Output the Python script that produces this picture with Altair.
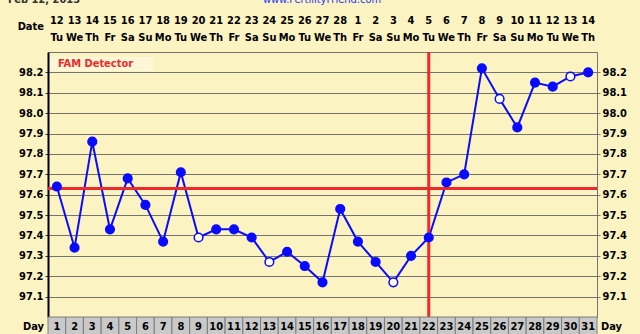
import altair as alt
import pandas as pd

# ---- data ----
days = list(range(1, 32))
temps = [97.64, 97.34, 97.86, 97.43, 97.68, 97.55, 97.37, 97.71, 97.39, 97.43,
         97.43, 97.39, 97.27, 97.32, 97.25, 97.17, 97.53, 97.37, 97.27, 97.17,
         97.30, 97.39, 97.66, 97.70, 98.22, 98.07, 97.93, 98.15, 98.13, 98.18, 98.20]
open_days = [9, 13, 20, 26, 30]
date_nums = [12, 13, 14, 15, 16, 17, 18, 19, 20, 21, 22, 23, 24, 25, 26, 27, 28,
             1, 2, 3, 4, 5, 6, 7, 8, 9, 10, 11, 12, 13, 14]
weekdays = ["Tu", "We", "Th", "Fr", "Sa", "Su", "Mo", "Tu", "We", "Th", "Fr", "Sa",
            "Su", "Mo", "Tu", "We", "Th", "Fr", "Sa", "Su", "Mo", "Tu", "We", "Th",
            "Fr", "Sa", "Su", "Mo", "Tu", "We", "Th"]
coverline = [97.63]
ovulation_day = [22]
y_ticks = [97.1, 97.2, 97.3, 97.4, 97.5, 97.6, 97.7, 97.8, 97.9, 98.0, 98.1, 98.2]
x_grid = [d + 0.5 for d in range(0, 32)]

W, H = 549, 265
BG = "#fcf3c2"
FONT = "DejaVu Sans Condensed, DejaVu Sans"
BLUE = "#0a0aff"
RED = "#ee2a2a"

df = pd.DataFrame({
    "day": days,
    "temp": temps,
    "date": date_nums,
    "wd": weekdays,
    "open": [d in open_days for d in days],
})
one = pd.DataFrame({"k": [0]})

xs = alt.Scale(domain=[0.5, 31.5], nice=False, zero=False)
ys = alt.Scale(domain=[97.0, 98.3], nice=False, zero=False)

x_main = alt.X("day:Q", scale=xs, axis=alt.Axis(
    values=x_grid, labels=False, ticks=False, domain=False, grid=True,
    gridColor="#85857e", gridWidth=1.5, title=None))
x_plain = alt.X("day:Q", scale=xs, axis=None)
y_left = alt.Y("temp:Q", scale=ys, axis=alt.Axis(
    values=y_ticks, format=".1f", grid=True, gridColor="#74746e", gridWidth=1,
    title=None, orient="left", domain=True, domainColor="#000000", domainWidth=2,
    tickSize=3, tickColor="#333333", labelPadding=2, labelFont=FONT,
    labelFontSize=11, labelFontWeight="bold", labelColor="#000000"))
y_right = alt.Y("temp:Q", scale=ys, axis=alt.Axis(
    values=y_ticks, format=".1f", grid=False, title=None, orient="right",
    domain=False, tickSize=3, tickColor="#777777", labelPadding=2,
    labelFont=FONT, labelFontSize=11, labelFontWeight="bold",
    labelColor="#000000"))
y_plain = alt.Y("temp:Q", scale=ys, axis=None)

# base grid + axes (invisible points)
grid_left = alt.Chart(df).mark_point(opacity=0).encode(x=x_main, y=y_left)
grid_right = alt.Chart(df).mark_point(opacity=0).encode(x=x_plain, y=y_right)

legend_box = alt.Chart(one).mark_rect(fill="#fdf7d8").encode(
    x=alt.value(2), x2=alt.value(105), y=alt.value(5), y2=alt.value(19))
legend_text = alt.Chart(one).mark_text(
    text="FAM Detector", color=RED, font=FONT, fontSize=11, fontWeight="bold",
    align="left", baseline="middle").encode(x=alt.value(10), y=alt.value(12))

line = alt.Chart(df).mark_line(color=BLUE, strokeWidth=2).encode(x=x_plain, y=y_plain)

cover = alt.Chart(pd.DataFrame({"temp": coverline})).mark_rule(
    color=RED, strokeWidth=3).encode(y=y_plain)
ovu = alt.Chart(pd.DataFrame({"day": ovulation_day})).mark_rule(
    color=RED, strokeWidth=3).encode(x=x_plain)

points = alt.Chart(df).mark_circle(size=75, opacity=1, stroke=BLUE, strokeWidth=1.5).encode(
    x=x_plain, y=y_plain,
    fill=alt.condition("datum.open", alt.value("white"), alt.value(BLUE)))

txt = dict(font=FONT, fontSize=11, fontWeight="bold", color="#000000", baseline="middle")
date_row = alt.Chart(df).mark_text(**txt).encode(x=x_plain, y=alt.value(-31), text="date:N")
wd_row = alt.Chart(df).mark_text(**txt).encode(x=x_plain, y=alt.value(-14), text="wd:N")
date_lbl = alt.Chart(one).mark_text(text="Date", align="right", **txt).encode(
    x=alt.value(-4), y=alt.value(-25))

cells = alt.Chart(df).transform_calculate(
    x0="datum.day - 0.5", x1="datum.day + 0.5").mark_rect(
    fill="#c9c9c9", stroke="#7c7c7c", strokeWidth=1).encode(
    x=alt.X("x0:Q", scale=xs, axis=None), x2="x1:Q",
    y=alt.value(H), y2=alt.value(H + 22))
day_row = alt.Chart(df).mark_text(**txt).encode(x=x_plain, y=alt.value(H + 10), text="day:N")
day_lbl_l = alt.Chart(one).mark_text(text="Day", align="right", **txt).encode(
    x=alt.value(-4), y=alt.value(H + 10))
day_lbl_r = alt.Chart(one).mark_text(text="Day", align="left", **txt).encode(
    x=alt.value(W + 4), y=alt.value(H + 10))

top_left = alt.Chart(one).mark_text(
    text="Feb 12, 2013", align="left", baseline="alphabetic", font=FONT,
    fontSize=11, fontWeight="bold", color="#333333").encode(x=alt.value(-40), y=alt.value(-49))
top_mid = alt.Chart(one).mark_text(
    text="www.FertilityFriend.com", align="center", baseline="alphabetic", font=FONT,
    fontSize=11, color="#2233ff").encode(x=alt.value(274), y=alt.value(-49))

chart = alt.layer(
    grid_left, grid_right, legend_box, legend_text, line, cover, ovu, points,
    date_row, wd_row, date_lbl, cells, day_row, day_lbl_l, day_lbl_r,
    top_left, top_mid,
).resolve_axis(y="independent").properties(
    width=W, height=H,
    autosize=alt.AutoSizeParams(type="none"),
    padding={"left": 48, "top": 52, "right": 43, "bottom": 17},
    background=BG,
).configure_view(fill=BG, stroke="#74746e", strokeWidth=1)

chart.save("out.html", embed_options={"renderer": "svg", "actions": False})
